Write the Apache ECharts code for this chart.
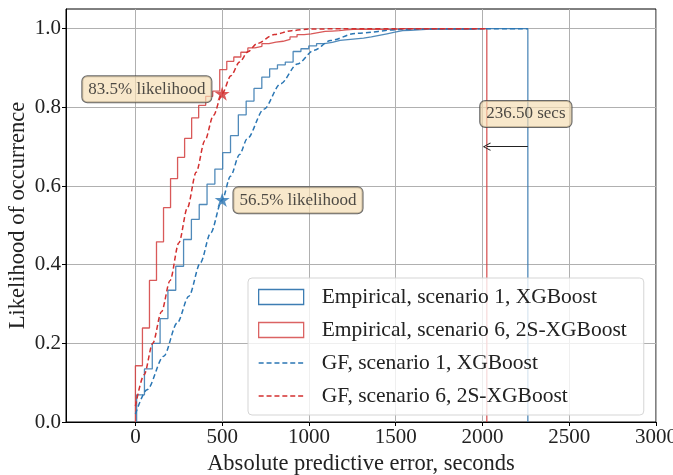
<!DOCTYPE html>
<html>
<head>
<meta charset="utf-8">
<script src="https://cdn.jsdelivr.net/npm/echarts@6/dist/echarts.min.js"></script>
<style>
  html, body { margin: 0; padding: 0; background: #fff; }
  #chart { width: 673px; height: 475px; }
</style>
</head>
<body>
<div id="chart"></div>
<script>
// cumulative histogram (50 bins) - scenario 1, XGBoost
var blueRange = [7, 2261.5];
var blueBins = [
  0.069, 0.135, 0.200, 0.263, 0.335, 0.396, 0.464, 0.515, 0.553, 0.605,
  0.643, 0.685, 0.728, 0.781, 0.816, 0.848, 0.877, 0.898, 0.908, 0.915,
  0.942, 0.949, 0.956, 0.962, 0.965, 0.970, 0.972, 0.974, 0.976, 0.979,
  0.983, 0.987, 0.991, 0.995, 0.996, 0.997, 0.998, 0.998, 0.998, 0.998,
  0.998, 0.998, 0.998, 1.0, 1.0, 1.0, 1.0, 1.0, 1.0, 1.0
];
// cumulative histogram (50 bins) - scenario 6, 2S-XGBoost
var redRange = [0, 2025];
var redBins = [
  0.143, 0.239, 0.360, 0.458, 0.545, 0.619, 0.673, 0.721, 0.773, 0.805,
  0.828, 0.841, 0.896, 0.917, 0.928, 0.940, 0.951, 0.955, 0.962, 0.966,
  0.968, 0.973, 0.979, 0.985, 0.987, 0.990, 0.993, 0.994, 0.995, 0.997,
  0.998, 0.998, 0.998, 0.998, 0.998, 0.998, 0.998, 1.0, 1.0, 1.0,
  1.0, 1.0, 1.0, 1.0, 1.0, 1.0, 1.0, 1.0, 1.0, 1.0
];
// fitted GF curves
var gfBlueX = [0, 67, 163, 241, 308, 375, 433, 500, 548, 600, 644, 740, 837, 933, 1029, 1125, 1269, 1529, 1817, 2261.5];
var gfBlueY = [0.02, 0.082, 0.167, 0.252, 0.32, 0.405, 0.48, 0.565, 0.625, 0.68, 0.72, 0.795, 0.86, 0.91, 0.945, 0.97, 0.988, 0.998, 1.0, 1.0];
var gfRedX = [0, 50, 100, 150, 200, 250, 300, 350, 400, 450, 500, 550, 600, 650, 700, 800, 900, 1000, 1200, 2025];
var gfRedY = [0.04, 0.12, 0.20, 0.28, 0.36, 0.455, 0.545, 0.635, 0.715, 0.78, 0.835, 0.88, 0.915, 0.942, 0.962, 0.985, 0.995, 0.999, 1.0, 1.0];

var xTicks = [0, 500, 1000, 1500, 2000, 2500, 3000];
var yTicks = [0, 0.2, 0.4, 0.6, 0.8, 1.0];

var names = [
  'Empirical, scenario 1, XGBoost',
  'Empirical, scenario 6, 2S-XGBoost',
  'GF, scenario 1, XGBoost',
  'GF, scenario 6, 2S-XGBoost'
];

var starRed = [500, 0.835];
var starBlue = [500, 0.565];
var labelRed = { pos: [66, 0.846], text: '83.5% likelihood' };
var labelBlue = { pos: [937, 0.564], text: '56.5% likelihood' };
var labelGap = { pos: [2250, 0.783], text: '236.50 secs' };
var gapArrow = [[2261.5, 0.70], [2025, 0.70]];

var BLUE = '#3d7db3', RED = '#d23c3c';
var BLUE_D = '#2a76b4', RED_D = '#d32f2f';
var FONT = 'Liberation Serif';

function histOutline(range, vals) {
  var w = (range[1] - range[0]) / vals.length;
  var pts = [[range[0], 0]];
  for (var k = 0; k < vals.length; k++) {
    pts.push([range[0] + k * w, vals[k]]);
    pts.push([range[0] + (k + 1) * w, vals[k]]);
  }
  pts.push([range[1], 0]);
  return pts;
}
function zip(xs, ys) {
  return xs.map(function (x, i) { return [x, ys[i]]; });
}

var star = 'path://M0,-10 L2.23,-3.07 L9.51,-3.09 L3.61,1.17 L5.88,8.09 L0,3.8 L-5.88,8.09 L-3.61,1.17 L-9.51,-3.09 L-2.23,-3.07 Z';
// open "->" style arrow head
var chevron = 'path://M0,0 L5,9 L4,9.6 L0,2.2 L-4,9.6 L-5,9 Z';

// dashed-line legend icon (45 x 15 box, tiny corner marks keep the bounds)
var dashIcon = 'path://M0,0 L0.01,0 L0,0.01 Z M45,15 L44.99,15 L45,14.99 Z';
for (var d = 0; d < 6; d++) {
  var x0 = d * 7.9;
  dashIcon += ' M' + x0 + ',6.8 L' + (x0 + 5) + ',6.8 L' + (x0 + 5) + ',8.2 L' + x0 + ',8.2 Z';
}

function boxLabel(item) {
  return {
    type: 'scatter',
    z: 10,
    silent: true,
    symbolSize: 1,
    itemStyle: { color: 'rgba(0,0,0,0)' },
    data: [item.pos],
    label: {
      show: true,
      position: 'inside',
      formatter: item.text,
      fontFamily: FONT,
      fontSize: 17,
      color: '#222',
      backgroundColor: 'rgba(245,222,179,0.85)',
      borderColor: '#444',
      borderWidth: 1,
      borderRadius: 5,
      padding: [5, 6, 4, 6]
    }
  };
}

var chart = echarts.init(document.getElementById('chart'));
chart.setOption({
  animation: false,
  grid: {
    left: 66, right: 17, top: 9, bottom: 53,
    outerBoundsMode: 'none',
    show: true, borderColor: '#000', borderWidth: 1
  },
  legend: {
    left: 248, top: 278,
    orient: 'vertical',
    itemWidth: 45, itemHeight: 15, itemGap: 11,
    padding: [8, 17, 8, 10],
    backgroundColor: 'rgba(255,255,255,0.8)',
    borderColor: '#d5d5d5', borderWidth: 1, borderRadius: 4,
    textStyle: { fontFamily: FONT, fontSize: 21.5, color: '#222', padding: [0, 0, 0, 13], lineHeight: 20 },
    data: [
      { name: names[0], icon: 'rect', itemStyle: { color: 'rgba(0,0,0,0)', borderColor: BLUE, borderWidth: 1.3 } },
      { name: names[1], icon: 'rect', itemStyle: { color: 'rgba(0,0,0,0)', borderColor: RED, borderWidth: 1.3, opacity: 0.8 } },
      { name: names[2], icon: dashIcon, itemStyle: { color: BLUE_D } },
      { name: names[3], icon: dashIcon, itemStyle: { color: RED_D } }
    ]
  },
  xAxis: {
    type: 'value', min: -400, max: 3000,
    name: 'Absolute predictive error, seconds',
    nameLocation: 'middle', nameGap: 28,
    nameTextStyle: { fontFamily: FONT, fontSize: 22.5, color: '#222' },
    axisLine: { show: true, onZero: false, lineStyle: { color: '#000' } },
    axisTick: { show: true, customValues: xTicks, length: 4, lineStyle: { color: '#000' } },
    axisLabel: {
      customValues: xTicks, fontFamily: FONT, fontSize: 21, color: '#222', margin: 5,
      formatter: function (v) { return String(v); }
    },
    splitLine: { show: true, lineStyle: { color: '#b0b0b0', width: 1 } }
  },
  yAxis: {
    type: 'value', min: 0, max: 1.05,
    name: 'Likelihood of occurrence',
    nameLocation: 'middle', nameGap: 36, nameMoveOverlap: false,
    nameTextStyle: { fontFamily: FONT, fontSize: 22.5, color: '#222' },
    axisLine: { show: true, onZero: false, lineStyle: { color: '#000' } },
    axisTick: { show: true, customValues: yTicks, length: 4, lineStyle: { color: '#000' } },
    axisLabel: {
      customValues: yTicks, fontFamily: FONT, fontSize: 21, color: '#222', margin: 5,
      formatter: function (v) { return v.toFixed(1); }
    },
    splitLine: { show: true, lineStyle: { color: '#b0b0b0', width: 1 } }
  },
  series: [
    {
      name: names[0], type: 'line', symbol: 'none', z: 3,
      data: histOutline(blueRange, blueBins),
      lineStyle: { color: BLUE, width: 1.3, opacity: 0.9 },
      itemStyle: { color: BLUE },
      markLine: {
        silent: true, symbol: ['none', chevron], symbolSize: [9, 8],
        symbolKeepAspect: true,
        label: { show: false },
        itemStyle: { color: '#222' },
        lineStyle: { color: '#222', width: 1, type: 'solid' },
        data: [[{ coord: gapArrow[0] }, { coord: gapArrow[1] }]]
      }
    },
    {
      name: names[1], type: 'line', symbol: 'none', z: 3,
      data: histOutline(redRange, redBins),
      lineStyle: { color: RED, width: 1.3, opacity: 0.85 },
      itemStyle: { color: RED }
    },
    {
      name: names[2], type: 'line', symbol: 'none', z: 4,
      smooth: 0.3, smoothMonotone: 'x',
      data: zip(gfBlueX, gfBlueY),
      lineStyle: { color: BLUE_D, width: 1.5, type: [5, 3] },
      itemStyle: { color: BLUE_D }
    },
    {
      name: names[3], type: 'line', symbol: 'none', z: 4,
      smooth: 0.3, smoothMonotone: 'x',
      data: zip(gfRedX, gfRedY),
      lineStyle: { color: RED_D, width: 1.5, type: [5, 3] },
      itemStyle: { color: RED_D }
    },
    {
      type: 'scatter', z: 6, symbol: star, symbolSize: 15, symbolKeepAspect: true,
      data: [{ value: starRed, itemStyle: { color: RED_D } }, { value: starBlue, itemStyle: { color: BLUE_D } }]
    },
    boxLabel(labelRed),
    boxLabel(labelBlue),
    boxLabel(labelGap)
  ]
});
</script>
</body>
</html>
